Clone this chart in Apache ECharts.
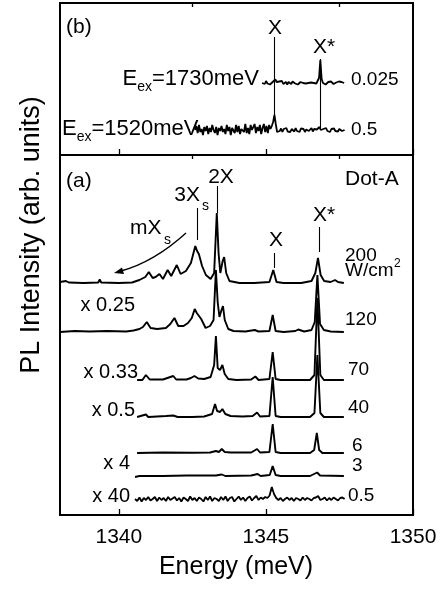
<!DOCTYPE html>
<html>
<head>
<meta charset="utf-8">
<script src="https://cdn.jsdelivr.net/npm/echarts@6/dist/echarts.min.js"></script>
<style>
  html, body { margin: 0; padding: 0; background: #fff; }
  #chart { width: 441px; height: 591px; }
</style>
</head>
<body>
<div id="chart"></div>
<script>
// PL spectra of Dot-A.
// Each spectrum is [energy (meV), height above its own baseline]; the
// baseline offsets stack them vertically like the original plot.

const FONT = '"Liberation Sans", Arial, sans-serif';

const energyTicks = [1340, 1345, 1350];
const energyMinorTicks = [1342.5, 1347.5];

// panel (a): power series
const powerLabels = ['200', '120', '70', '40', '6', '3', '0.5'];
const scaleLabels = ['', 'x 0.25', 'x 0.33', 'x 0.5', '', 'x 4', 'x 40'];
const powerOffsets = [232, 183, 135, 98, 62, 39, 16];

const spec200 = [
  [1338.0, 1], [1338.2, 2], [1338.3, 0.5], [1338.8, 0], [1339.3, 0.5], [1339.35, 3.5], [1339.4, 0.5],
  [1340.0, 0], [1340.45, 0.5], [1340.7, 3], [1340.9, 6], [1341.02, 11], [1341.15, 5], [1341.25, 6],
  [1341.38, 9], [1341.5, 4], [1341.66, 13], [1341.78, 7], [1341.97, 18], [1342.1, 9], [1342.28, 12],
  [1342.45, 20], [1342.6, 37], [1342.66, 32], [1342.72, 29], [1342.83, 17], [1342.96, 8], [1343.12, 4],
  [1343.24, 10], [1343.33, 70], [1343.39, 30], [1343.45, 10], [1343.53, 22], [1343.58, 26], [1343.65, 10],
  [1343.76, 2], [1344.1, 0], [1344.6, 0], [1345.12, 1], [1345.25, 13], [1345.36, 1], [1345.6, 0],
  [1346.2, 0], [1346.55, 2], [1346.68, 10], [1346.77, 25], [1346.86, 8], [1346.98, 2], [1347.2, 1],
  [1347.35, 3], [1347.45, 1], [1347.65, 0]
];
const spec120 = [
  [1338.0, 0], [1338.5, 1], [1339.0, 0.5], [1339.6, 1], [1340.25, 0.5], [1340.5, 1.5], [1340.7, 3],
  [1340.82, 5], [1340.95, 10], [1341.08, 4], [1341.3, 3], [1341.6, 4], [1341.75, 8], [1341.89, 14],
  [1342.02, 6], [1342.2, 6], [1342.35, 9], [1342.48, 14], [1342.58, 23], [1342.65, 19], [1342.71, 21],
  [1342.8, 13], [1342.95, 4], [1343.1, 6], [1343.22, 12], [1343.3, 62], [1343.36, 30], [1343.42, 15],
  [1343.49, 22], [1343.54, 26], [1343.6, 12], [1343.72, 3], [1343.9, 1], [1344.3, 0.5], [1344.62, 2],
  [1344.75, 0.5], [1345.12, 1], [1345.23, 17], [1345.33, 1], [1345.6, 0], [1346.0, 1], [1346.1, 2.5],
  [1346.3, 0.5], [1346.55, 2], [1346.66, 10], [1346.75, 57], [1346.84, 8], [1346.97, 2], [1347.2, 0.5],
  [1347.65, 0]
];
const spec70 = [
  [1340.62, 0], [1340.8, 0], [1340.92, 5], [1341.05, 0.5], [1341.5, 0.5], [1341.85, 4], [1341.95, 0.5],
  [1342.3, 0.5], [1342.45, 2], [1342.57, 4], [1342.7, 1.5], [1342.9, 1], [1343.12, 3], [1343.24, 15],
  [1343.3, 44], [1343.36, 12], [1343.44, 10], [1343.52, 15], [1343.6, 6], [1343.72, 1], [1344.0, 0],
  [1344.5, 0.5], [1344.64, 3.5], [1344.75, 0], [1345.12, 1], [1345.23, 28], [1345.33, 1], [1345.5, 0],
  [1346.5, 0], [1346.65, 5], [1346.75, 82], [1346.85, 5], [1346.97, 0], [1347.65, 0]
];
const spec40 = [
  [1340.62, 0], [1340.92, 2.5], [1341.0, 0], [1341.3, 0.5], [1341.6, 1], [1341.85, 1.5], [1342.0, 0],
  [1342.5, 0], [1342.9, 0.5], [1343.17, 3], [1343.27, 13], [1343.34, 6], [1343.44, 5], [1343.52, 8],
  [1343.62, 3], [1343.8, 1], [1344.2, 0.5], [1344.55, 1], [1344.7, 4.5], [1344.8, 0.5], [1345.12, 1],
  [1345.23, 40], [1345.33, 1], [1345.5, 0], [1346.5, 0], [1346.65, 4], [1346.75, 62], [1346.85, 4],
  [1346.97, 0], [1347.65, 0]
];
const spec6 = [
  [1340.62, 0], [1341.5, 0.5], [1342.5, 0.3], [1343.1, 0.5], [1343.3, 2], [1343.4, 1], [1343.5, 4],
  [1343.6, 1], [1343.8, 0.5], [1344.5, 0.5], [1344.7, 4], [1344.8, 0.5], [1345.12, 1], [1345.23, 29],
  [1345.33, 1], [1345.5, 0], [1346.5, 0], [1346.64, 3], [1346.73, 20], [1346.81, 3], [1346.92, 0],
  [1347.65, 0]
];
const spec3 = [
  [1340.55, -1], [1340.7, 0], [1341.5, 0], [1342.3, 0.5], [1343.3, 0.5], [1343.5, 1.5], [1343.62, 0],
  [1344.5, 0.5], [1344.72, 2], [1344.82, 0], [1345.13, 1], [1345.23, 10], [1345.33, 1], [1345.5, 0],
  [1346.5, 0], [1346.74, 3.5], [1346.84, 0.5], [1347.65, 0]
];
// the 0.5 W/cm2 trace is noisy: channel values from 1340.55 meV in 0.075 meV steps
const spec05Start = 1340.55;
const spec05Step = 0.075;
const spec05 = [
  0, -2, 1.5, -2.5, 1, -1, 2, -1.5, 0, 2, -2, 1.5, -1, 1, -2, 2, -1, 0.5, 2, -1.5,
  1, -2.5, 1.5, 0, -2, 2.5, -1, 1, -2, 1.5, 0, -2.5, 2, -1, 2.5, -2, 1, 0, -2, 2,
  -1, 2.5, -2, 1, 2, -2.5, 0, 2.5, -1, 1.5, -2, 1, 2.5, -1.5, 1, 3, -1, 1.5, 0, 2,
  1, 3.5, 12, 5, 1, -1, 1, -2, 0, 1.5, -1, 1, -2, 1, 0, -1.5, 1.5, -1, 1, 0,
  -1.5, 1, 1.5, 3, -1, 0, 1.5, -1.5, 1, -1, 1.5, 0, -1.5, 1, 1.5, 0
];

// panel (b): excitation energy
const exLabels = ['1730', '1520'];
const exScale = ['0.025', '0.5'];
const exOffsets = [72, 25];
const exStarts = [1344.87, 1342.59];
const exStep = 0.045;
const spec1730 = [
  0, 1.5, -1, 2, -0.5, 1, -1.5, 0.5, 1, 2, 3.5, 1, -1, 1.5, 0, 2, -1, 0.5, 1, -1.5,
  1, 0, -1, 1.5, 0.5, -0.5, 1, -1.5, 0.5, 1, -1, 0, 1.5, -0.5, 1, 0, -1, 0.5, 1, 0,
  1.5, -0.5, 1, 5, 23, 4, 0, 1, -1.5, 0.5, 1, -1, 1.5, 0, -1, 1, 0.5, -1, 1.5, 0,
  1, -0.5, 0
];
const spec1520 = [
  0, 4, -3, 5, -2, 1, -5, 3, -1, 4, -4, 2, -2, 5, 0, -3, 3, -5, 2, -1,
  4, -2, 1, -4, 5, -1, 3, -5, 2, 0, -3, 5, -2, 4, -4, 1, 3, -2, 6, -3,
  2, -4, 5, 0, -2, 6, -3, 3, -1, 5, -4, 2, 6, -2, 4, -3, 5, 1, 4, 8,
  15, 6, -2, 0, -1, 1.5, -2, 1, -0.5, 2, -1.5, 0.5, -2, 1, 0, -1.5, 2, -1, 0.5, -2,
  1.5, -0.5, 1, -2, 0.5, 1.5, -1, 0, 2, -1.5, 1, -0.5, 0.5, 1, 3, 0, -1.5, 1, -0.5, 2,
  -1, 0.5, -2, 1, 0, 1.5, -1, 0.5, -1.5, 1, 0.5, -1, 1, 0
];

// peak marker lines: [energy, from, to] in each panel's intensity units
const markersA = [[1342.66, 307, 275], [1343.34, 329, 302], [1345.27, 262, 247], [1346.8, 288, 263]];
const markersB = [[1345.3, 118, 40], [1346.84, 96, 27]];

function shift(points, off) {
  return points.map(p => [p[0], p[1] + off]);
}
function sampled(start, step, vals, off) {
  return vals.map((v, i) => [+(start + i * step).toFixed(3), v + off]);
}

const chart = echarts.init(document.getElementById('chart'), null, { renderer: 'canvas' });

const panelA = [spec200, spec120, spec70, spec40, spec6, spec3];
const series = [];
panelA.forEach((s, i) => {
  series.push({
    type: 'line', xAxisIndex: 2, yAxisIndex: 1, symbol: 'none', silent: true,
    lineStyle: { color: '#000', width: 1.9 },
    data: shift(s, powerOffsets[i])
  });
});
series.push({
  type: 'line', xAxisIndex: 2, yAxisIndex: 1, symbol: 'none', silent: true,
  lineStyle: { color: '#000', width: 1.8 },
  data: sampled(spec05Start, spec05Step, spec05, powerOffsets[6]),
  markLine: {
    symbol: ['none', 'none'], silent: true, label: { show: false },
    lineStyle: { color: '#000', width: 1.1, type: 'solid' },
    data: markersA.map(m => [{ coord: [m[0], m[1]] }, { coord: [m[0], m[2]] }])
  }
});
series.push({
  type: 'line', xAxisIndex: 0, yAxisIndex: 0, symbol: 'none', silent: true,
  lineStyle: { color: '#000', width: 1.8 },
  data: sampled(exStarts[0], exStep, spec1730, exOffsets[0])
});
series.push({
  type: 'line', xAxisIndex: 0, yAxisIndex: 0, symbol: 'none', silent: true,
  lineStyle: { color: '#000', width: 1.8 },
  data: sampled(exStarts[1], exStep, spec1520, exOffsets[1]),
  markLine: {
    symbol: ['none', 'none'], silent: true, label: { show: false },
    lineStyle: { color: '#000', width: 1.1, type: 'solid' },
    data: markersB.map(m => [{ coord: [m[0], m[1]] }, { coord: [m[0], m[2]] }])
  }
});

function energyAxis(gridIndex, ticks, len, withLabels) {
  return {
    type: 'value', gridIndex: gridIndex, min: 1338, max: 1350,
    axisLine: { show: false },
    splitLine: { show: false },
    axisTick: { show: true, inside: true, length: len, customValues: ticks, lineStyle: { color: '#000', width: 1.3 } },
    axisLabel: withLabels
      ? { show: true, customValues: ticks, color: '#000', fontSize: 21, fontFamily: FONT, margin: 12, formatter: v => String(v) }
      : { show: false }
  };
}

function txt(x, y, text, size, align) {
  return {
    type: 'text', x: x, y: y, silent: true,
    style: { text: text, fill: '#000', fontSize: size, fontFamily: FONT, align: align || 'left', verticalAlign: 'middle' }
  };
}
function exText(x, y, energy, align) {
  return {
    type: 'text', x: x, y: y, silent: true,
    style: {
      text: '{e|E}{s|ex}{e|=' + energy + 'meV}',
      align: align, verticalAlign: 'middle', fill: '#000',
      rich: {
        e: { fontSize: 22, fontFamily: FONT, lineHeight: 30, fill: '#000' },
        s: { fontSize: 14, fontFamily: FONT, lineHeight: 30, verticalAlign: 'bottom', fill: '#000' }
      }
    }
  };
}

const graphics = [
  // panel (b)
  txt(66, 27, '(b)', 21),
  txt(275, 28, 'X', 21, 'center'),
  txt(313, 47, 'X*', 21),
  exText(259, 79, exLabels[0], 'right'),
  exText(62, 129, exLabels[1], 'left'),
  txt(351, 80, exScale[0], 19),
  txt(351, 130, exScale[1], 19),
  // panel (a)
  txt(66, 181, '(a)', 21),
  txt(221, 177, '2X', 21, 'center'),
  txt(200, 195, '3X', 21, 'right'),
  txt(202, 206, 's', 14),
  txt(130, 228, 'mX', 21),
  txt(164, 240, 's', 14),
  txt(276, 240, 'X', 21, 'center'),
  txt(313, 215, 'X*', 21),
  txt(345, 179, 'Dot-A', 21),
  txt(345, 256, powerLabels[0], 19),
  txt(345, 271, 'W/cm', 19),
  txt(394, 264, '2', 12),
  txt(345, 320, powerLabels[1], 19),
  txt(348, 370, powerLabels[2], 19),
  txt(348, 408, powerLabels[3], 19),
  txt(352, 446, powerLabels[4], 19),
  txt(352, 466, powerLabels[5], 19),
  txt(348, 496, powerLabels[6], 19),
  txt(135, 305, scaleLabels[1], 20, 'right'),
  txt(138, 372, scaleLabels[2], 20, 'right'),
  txt(135, 410, scaleLabels[3], 20, 'right'),
  txt(130, 463, scaleLabels[5], 20, 'right'),
  txt(130, 496, scaleLabels[6], 20, 'right'),
  // mX_s arrow
  {
    type: 'bezierCurve', silent: true,
    shape: { x1: 186, y1: 233, x2: 121, y2: 271, cpx1: 154, cpy1: 262 },
    style: { stroke: '#000', lineWidth: 1.4, fill: null }
  },
  {
    type: 'polygon', silent: true,
    shape: { points: [[114, 273], [124, 274], [122, 267.5]] },
    style: { fill: '#000' }
  },
  // axis names
  txt(236, 567, 'Energy (meV)', 25, 'center'),
  {
    type: 'text', x: 32, y: 235, rotation: Math.PI / 2, silent: true,
    style: { text: 'PL Intensity (arb. units)', fill: '#000', fontSize: 27, fontFamily: FONT, align: 'center', verticalAlign: 'middle' }
  }
];

chart.setOption({
  animation: false,
  backgroundColor: '#fff',
  grid: [
    { left: 60, top: 3, width: 353, height: 152, show: true, borderColor: '#000', borderWidth: 2, backgroundColor: 'transparent' },
    { left: 60, top: 155, width: 353, height: 360, show: true, borderColor: '#000', borderWidth: 2, backgroundColor: 'transparent' }
  ],
  xAxis: [
    energyAxis(0, energyTicks, 6, false),
    energyAxis(0, energyMinorTicks, 4, false),
    energyAxis(1, energyTicks, 6, true),
    energyAxis(1, energyMinorTicks, 4, false)
  ],
  yAxis: [
    { type: 'value', gridIndex: 0, min: 0, max: 152, show: false },
    { type: 'value', gridIndex: 1, min: 0, max: 360, show: false }
  ],
  series: series,
  graphic: graphics
});
</script>
</body>
</html>
